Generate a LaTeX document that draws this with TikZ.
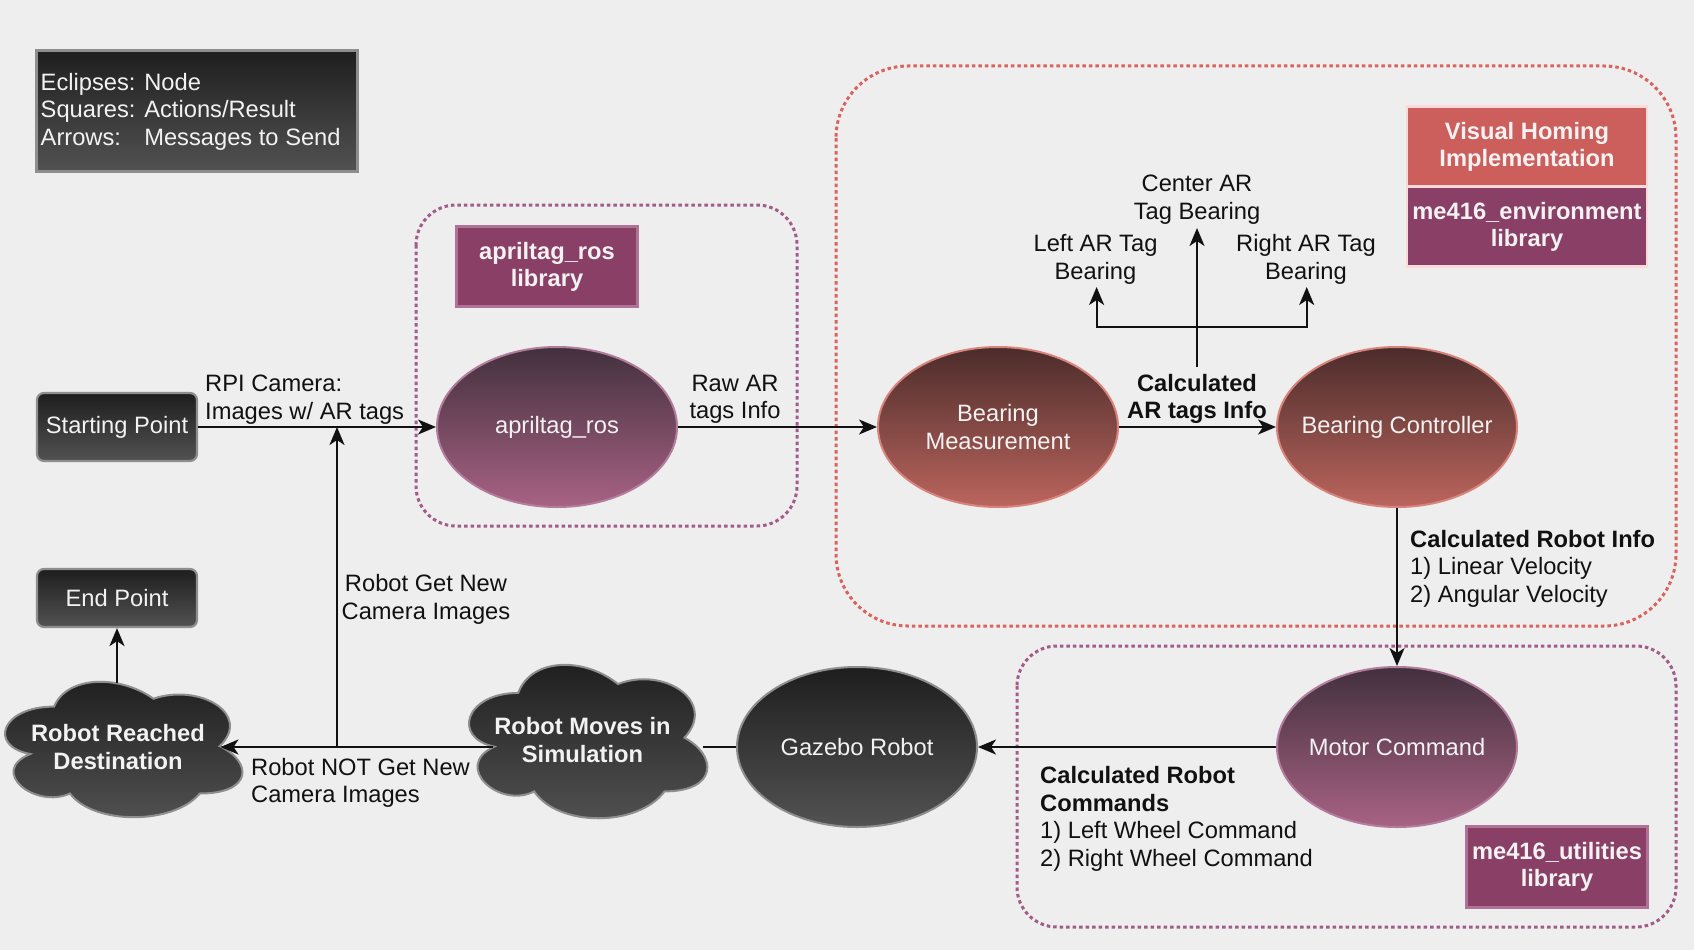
\documentclass[tikz,border=0pt]{standalone}
\usepackage{fontspec}
\setmainfont{Liberation Sans}
\usetikzlibrary{shapes.geometric,arrows.meta}
\definecolor{bgc}{HTML}{EEEEEE}
\definecolor{dtop}{HTML}{1E1E1E}
\definecolor{dbot}{HTML}{525252}
\definecolor{dborder}{HTML}{8E8E8E}
\definecolor{ptop}{HTML}{42303D}
\definecolor{pbot}{HTML}{A86284}
\definecolor{pborder}{HTML}{B27C9C}
\definecolor{rtop}{HTML}{4B2C2B}
\definecolor{rbot}{HTML}{BB655D}
\definecolor{rborder}{HTML}{D8847C}
\definecolor{libp}{HTML}{8A3F66}
\definecolor{libpb}{HTML}{B07296}
\definecolor{vhred}{HTML}{CC5F5B}
\definecolor{vhb}{HTML}{FBD9D8}
\definecolor{dashred}{HTML}{D9645E}
\definecolor{dashpur}{HTML}{A25C88}
\definecolor{wtxt}{HTML}{F2F2F2}
\definecolor{ink}{HTML}{111111}
\begin{document}
\begin{tikzpicture}[x=1pt,y=-1pt,
  every node/.style={font=\fontsize{23.7}{27.5}\selectfont, inner sep=0pt, align=center, text=ink},
  conn/.style={draw=ink, line width=2.2pt},
  arr/.style={conn, -{Stealth[length=18pt,width=15pt,inset=5pt]}},
  darkbox/.style={rectangle, rounded corners=7pt, top color=dtop, bottom color=dbot, draw=dborder, line width=2.2pt, text=wtxt},
  legendbox/.style={rectangle, top color=dtop, bottom color=dbot, draw=dborder, line width=2.5pt},
  ell/.style={ellipse, line width=2pt, minimum width=240pt, minimum height=160pt},
  intext/.style={label={[text=wtxt]center:#1}},
  purnode/.style={ell, top color=ptop, bottom color=pbot, draw=pborder},
  rednode/.style={ell, top color=rtop, bottom color=rbot, draw=rborder},
  darknode/.style={ell, top color=dtop, bottom color=dbot, draw=dborder},
  cloudfill/.style={top color=dtop, bottom color=dbot, draw=dborder, line width=2pt},
  cloudtext/.style={text=wtxt, font=\fontsize{23.7}{27.5}\selectfont\bfseries},
  libbox/.style={rectangle, fill=libp, draw=libpb, line width=2.5pt, text=wtxt, font=\fontsize{23.7}{27.5}\selectfont\bfseries},
  vhbox/.style={rectangle, fill=vhred, draw=vhb, line width=2.5pt, text=wtxt, font=\fontsize{23.7}{27.5}\selectfont\bfseries},
  grpred/.style={draw=dashred, line width=3pt, dash pattern=on 3.5pt off 3pt},
  grppur/.style={draw=dashpur, line width=3pt, dash pattern=on 3.5pt off 3pt},
  lbl/.style={text=ink},
  boldlbl/.style={text=ink, font=\fontsize{23.7}{27.5}\selectfont\bfseries},
  cloudpath/.style={insert path={(0.25,0.25) .. controls (0.05,0.25) and (0,0.5) .. (0.16,0.55)
     .. controls (0,0.66) and (0.18,0.9) .. (0.31,0.8)
     .. controls (0.4,1) and (0.7,1) .. (0.8,0.8)
     .. controls (1,0.8) and (1,0.6) .. (0.875,0.5)
     .. controls (1,0.3) and (0.8,0.1) .. (0.625,0.2)
     .. controls (0.5,0.05) and (0.3,0.05) .. (0.25,0.25) -- cycle}}
]
\fill[bgc] (0,0) rectangle (1694,950);
\useasboundingbox (0,0) rectangle (1694,950);

% group frames
\draw[grppur, rounded corners=40pt] (416,205) rectangle (797,526);
\draw[grpred, rounded corners=72pt] (836,66) rectangle (1676,626);
\draw[grppur, rounded corners=40pt] (1017,646) rectangle (1676,927);

% legend
\node[legendbox, minimum width=321pt, minimum height=121pt] (legend) at (197,111) {};
\node[anchor=west, text=wtxt] (legendtxt) at (40.5,112) {\begin{tabular}{@{}l@{ }l@{}}Eclipses: & Node\\ Squares: & Actions/Result\\ Arrows: & Messages to Send\end{tabular}};

% boxes
\node[darkbox, minimum width=160pt, minimum height=68pt] (start) at (117,427) {Starting Point};
\node[darkbox, minimum width=160pt, minimum height=58pt] (endp) at (117,598) {End Point};

\node[libbox, minimum width=181pt, minimum height=80pt] (alib) at (547,266.7) {apriltag\_ros\\library};
\node[vhbox, minimum width=240pt, minimum height=80pt] (vh) at (1527,146.7) {Visual Homing\\Implementation};
\node[libbox, draw=vhb, minimum width=240pt, minimum height=80pt] (envlib) at (1527,226.7) {me416\_environment\\library};
\node[libbox, minimum width=181pt, minimum height=81pt] (utillib) at (1557,867) {me416\_utilities\\library};

% ellipses
\node[purnode, intext={apriltag\_ros}] (april) at (557,427) {};
\node[rednode, intext={Bearing\\Measurement}] (bm) at (998,427) {};
\node[rednode, intext={Bearing Controller}] (bc) at (1397,427) {};
\node[purnode, intext={Motor Command}] (mc) at (1397,747) {};
\node[darknode, intext={Gazebo Robot}] (gaz) at (857,747) {};

% clouds (draw.io cloud outline)
\begin{scope}[shift={(-12.2,667.1)}, x=265pt, y=-158pt]
  \shadedraw[cloudfill] [cloudpath];
\end{scope}
\begin{scope}[shift={(451.7,648.2)}, x=266pt, y=-179pt]
  \shadedraw[cloudfill] [cloudpath];
\end{scope}
\node[cloudtext] (reached) at (118,747) {Robot Reached\\Destination};
\node[cloudtext] (moves) at (582.5,740) {Robot Moves in\\Simulation};

% labels
\node[lbl, anchor=west, align=left] (rpi) at (205,399.5) {RPI Camera:\\Images w/ AR tags};
\node[lbl] (raw) at (735,399.5) {Raw AR\\tags Info};
\node[boldlbl] (calcar) at (1197,399) {Calculated\\AR tags Info};
\node[lbl] (ctag) at (1197,199.5) {Center AR\\Tag Bearing};
\node[lbl] (ltag) at (1095.5,259.5) {Left AR Tag\\Bearing};
\node[lbl] (rtag) at (1306,259.5) {Right AR Tag\\Bearing};
\node[lbl, anchor=west, align=left] (rinfo) at (1410,568.5) {\textbf{Calculated Robot Info}\\1) Linear Velocity\\2) Angular Velocity};
\node[lbl, anchor=west, align=left] (rcmd) at (1040,819) {\textbf{Calculated Robot}\\\textbf{Commands}\\1) Left Wheel Command\\2) Right Wheel Command};
\node[lbl] (getnew) at (426,599.5) {Robot Get New\\Camera Images};
\node[lbl, anchor=west, align=left] (notget) at (251,783) {Robot NOT Get New\\Camera Images};

% junction / border coordinates
\coordinate (loopj) at (337,747);
\coordinate (bj) at (1197,367);
\coordinate (hj) at (1197,326.7);
\coordinate (ctip) at (1197,228);
\coordinate (ltip) at (1096.6,287);
\coordinate (rtip) at (1306.7,287);
\coordinate (reachedE) at (220.5,747);
\coordinate (reachedN) at (117,683);
\coordinate (movesW) at (493,747);
\coordinate (movesE) at (703,747);

% connectors
\draw[arr] (start.east) -- (april.west);
\draw[arr] (april.east) -- (bm.west);
\draw[arr] (bm.east) -- (bc.west);
\draw[arr] (bj) -- (ctip);
\draw[arr] (hj) -| (ltip);
\draw[arr] (hj) -| (rtip);
\draw[arr] (bc.south) -- (mc.north);
\draw[arr] (mc.west) -- (gaz.east);
\draw[conn] (gaz.west) -- (movesE);
\draw[arr] (movesW) -- (reachedE);
\draw[arr] (loopj) -- (loopj |- start.east);
\draw[arr] (reachedN) -- (endp.south);
\end{tikzpicture}
\end{document}
